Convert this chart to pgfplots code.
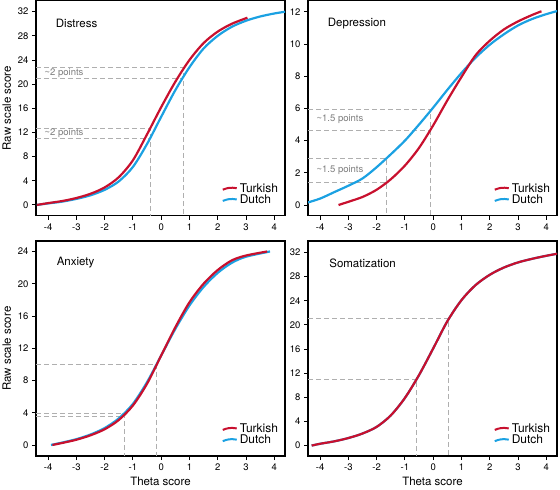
\documentclass[border=0pt]{standalone}
\usepackage{fontspec}
\setmainfont{TeX Gyre Heros}
\usepackage{pgfplots}
\pgfplotsset{compat=1.18}
\definecolor{tred}{RGB}{200,16,46}
\definecolor{dblue}{RGB}{27,161,226}
\definecolor{dgray}{RGB}{175,175,175}
\definecolor{tgray}{RGB}{125,125,125}

\pgfplotsset{
 panel/.style={
  scale only axis, width=249pt, height=215pt,
  xmin=-4.43, xmax=4.38,
  /pgf/number format/assume math mode=true,
  axis line style={line width=1.1pt},
  tick style={line width=0.9pt, black},
  tick align=outside, major tick length=4pt,
  xtick pos=left, ytick pos=left,
  xtick={-4,...,4}, xticklabels={-4,-3,-2,-1,0,1,2,3,4},
  tick label style={font=\fontsize{9.5}{11}\selectfont},
  label style={font=\fontsize{11.5}{13}\selectfont},
  legend style={draw=none, fill=none, at={(0.985,0.035)}, anchor=south east,
    font=\fontsize{12}{13}\selectfont, row sep=-3pt, inner sep=1pt},
  legend cell align=left,
  reverse legend,
  legend image code/.code={\draw[##1, line width=2pt] (0pt,-1pt) .. controls (5pt,1pt) and (8pt,1.5pt) .. (14pt,0.5pt);},
 },
 tk/.style={color=tred, line width=2.2pt, smooth},
 du/.style={color=dblue, line width=2.2pt, smooth},
 guide/.style={dgray, dash pattern=on 5pt off 3pt, line width=0.7pt, forget plot},
}
\tikzset{
 ttl/.style={anchor=west, font=\fontsize{11.5}{13}\selectfont},
 pts/.style={anchor=west, text=tgray, font=\fontsize{9.5}{11}\selectfont},
}

\begin{document}
\begin{tikzpicture}
\useasboundingbox (0,0) rectangle (560pt,-490pt);

% ---------------- Distress
\begin{axis}[panel, at={(36pt,-0.8pt)}, anchor=north west,
  ymin=-1.8, ymax=33.8, ytick={0,4,...,32}, ylabel={Raw scale score}]
\addplot[guide] coordinates {(-4.43,12.75) (-0.4,12.75) (-0.4,-1.8)};
\addplot[guide] coordinates {(-4.43,11.1) (-0.4,11.1)};
\addplot[guide] coordinates {(-4.43,22.7) (0.77,22.7) (0.77,-1.8)};
\addplot[guide] coordinates {(-4.43,20.9) (0.77,20.9)};
\addplot[du] coordinates {(-4.4,0) (-4,0.25) (-3.5,0.55) (-3,1.0) (-2.5,1.6) (-2,2.5) (-1.5,3.9) (-1,6.3) (-0.5,10.1) (0,14.6) (0.5,19.0) (1,22.8) (1.5,25.9) (2,28.0) (2.5,29.5) (3,30.5) (3.5,31.2) (4,31.7) (4.4,32.0)};
\addlegendentry{Dutch}
\addplot[tk] coordinates {(-4.4,0) (-4,0.3) (-3.5,0.65) (-3,1.15) (-2.5,1.85) (-2,2.9) (-1.5,4.6) (-1,7.4) (-0.5,11.7) (0,16.2) (0.5,20.4) (1,24.0) (1.5,26.8) (2,28.7) (2.5,30.0) (3.05,31.0)};
\addlegendentry{Turkish}
\node[ttl] at (axis cs:-3.85,30) {Distress};
\node[pts] at (axis cs:-4.25,21.8) {\textasciitilde2 points};
\node[pts] at (axis cs:-4.25,11.9) {\textasciitilde2 points};
\end{axis}

% ---------------- Depression
\begin{axis}[panel, at={(308pt,-0.8pt)}, anchor=north west,
  ymin=-0.67, ymax=12.68, ytick={0,2,...,12}]
\addplot[guide] coordinates {(-4.43,5.96) (-0.09,5.96) (-0.09,-0.67)};
\addplot[guide] coordinates {(-4.43,4.62) (-0.09,4.62)};
\addplot[guide] coordinates {(-4.43,2.92) (-1.67,2.92) (-1.67,-0.67)};
\addplot[guide] coordinates {(-4.43,1.41) (-1.67,1.41)};
\addplot[du] coordinates {(-4.45,0.15) (-4,0.4) (-3.5,0.8) (-3,1.2) (-2.5,1.65) (-2,2.35) (-1.5,3.15) (-1,4.0) (-0.5,5.0) (0,6.05) (0.5,7.15) (1,8.2) (1.5,9.15) (2,9.95) (2.5,10.6) (3,11.15) (3.5,11.55) (4,11.85) (4.4,12.05)};
\addlegendentry{Dutch}
\addplot[tk] coordinates {(-3.35,0) (-3,0.2) (-2.5,0.5) (-2,0.95) (-1.5,1.6) (-1,2.45) (-0.5,3.55) (0,4.95) (0.5,6.5) (1,7.95) (1.5,9.3) (2,10.2) (2.5,10.9) (3,11.4) (3.5,11.8) (3.83,12.03)};
\addlegendentry{Turkish}
\node[ttl] at (axis cs:-3.85,11.28) {Depression};
\node[pts] at (axis cs:-4.25,5.3) {\textasciitilde1.5 points};
\node[pts] at (axis cs:-4.25,2.15) {\textasciitilde1.5 points};
\end{axis}

% ---------------- Anxiety
\begin{axis}[panel, at={(36pt,-241pt)}, anchor=north west,
  ymin=-1.37, ymax=25.3, ytick={0,4,...,24}, ylabel={Raw scale score}, xlabel={Theta score}]
\addplot[guide] coordinates {(-4.43,10.0) (-0.16,10.0) (-0.16,-1.37)};
\addplot[guide] coordinates {(-4.43,3.93) (-1.32,3.93) (-1.32,-1.37)};
\addplot[guide] coordinates {(-4.43,3.6) (-1.32,3.6)};
\addplot[du] coordinates {(-3.9,0) (-3.5,0.3) (-3,0.72) (-2.5,1.3) (-2,2.1) (-1.5,3.3) (-1,5.1) (-0.5,7.8) (0,11.1) (0.5,14.4) (1,17.3) (1.5,19.6) (2,21.35) (2.5,22.6) (3,23.35) (3.85,24.0)};
\addlegendentry{Dutch}
\addplot[tk] coordinates {(-3.85,0) (-3.5,0.25) (-3,0.65) (-2.5,1.2) (-2,1.95) (-1.5,3.1) (-1,4.9) (-0.5,7.6) (0,11.1) (0.5,14.6) (1,17.7) (1.5,20.0) (2,21.7) (2.5,22.9) (3,23.5) (3.75,24.0)};
\addlegendentry{Turkish}
\node[ttl] at (axis cs:-3.82,22.6) {Anxiety};
\end{axis}

% ---------------- Somatization
\begin{axis}[panel, at={(308pt,-241pt)}, anchor=north west,
  ymin=-1.73, ymax=33.9, ytick={0,4,...,32}, xlabel={Theta score}]
\addplot[guide] coordinates {(-4.43,21.05) (0.55,21.05) (0.55,-1.73)};
\addplot[guide] coordinates {(-4.43,11.0) (-0.58,11.0) (-0.58,-1.73)};
\addplot[du] coordinates {(-4.3,0) (-4,0.3) (-3.5,0.7) (-3,1.25) (-2.5,2.0) (-2,3.1) (-1.5,5.0) (-1,7.9) (-0.5,11.7) (0,16.1) (0.5,20.6) (1,24.1) (1.5,26.6) (2,28.3) (2.5,29.5) (3,30.35) (3.5,30.95) (4,31.45) (4.4,31.8)};
\addlegendentry{Dutch}
\addplot[tk] coordinates {(-4.3,0) (-4,0.3) (-3.5,0.7) (-3,1.25) (-2.5,2.0) (-2,3.1) (-1.5,5.0) (-1,7.9) (-0.5,11.7) (0,16.1) (0.5,20.6) (1,24.1) (1.5,26.6) (2,28.3) (2.5,29.5) (3,30.35) (3.5,30.95) (4,31.45) (4.4,31.8)};
\addlegendentry{Turkish}
\node[ttl] at (axis cs:-3.8,30.2) {Somatization};
\end{axis}
\end{tikzpicture}
\end{document}
